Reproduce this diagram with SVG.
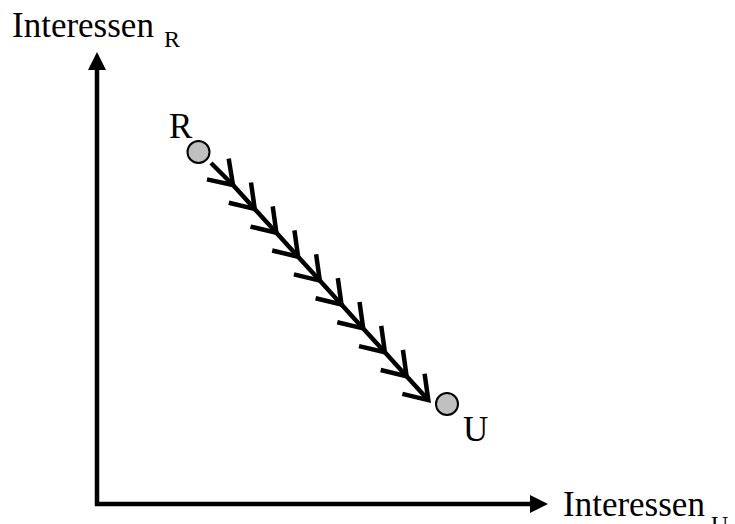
<svg xmlns="http://www.w3.org/2000/svg" width="735" height="524" viewBox="0 0 735 524">
  <style>
    .lbl { font-family: "Liberation Serif", "Times New Roman", serif; fill: #000; }
    .big { font-size: 35px; }
    .sub { font-size: 24px; }
    .axis { stroke: #000; stroke-width: 4.5; fill: none; }
    .pt { fill: #c0c0c0; stroke: #000; stroke-width: 2; }
    .path { stroke: #000; stroke-width: 4.5; fill: none; }
  </style>
  <defs>
    <marker id="chev" markerUnits="userSpaceOnUse" markerWidth="60" markerHeight="60" refX="0" refY="0" viewBox="-30 -30 60 60" orient="auto" overflow="visible">
      <path d="M -22 -15 L 0 0 L -22 15" fill="none" stroke="#000" stroke-width="4.5" stroke-linejoin="miter" stroke-miterlimit="10"/>
    </marker>
  </defs>

  <g id="axes">
    <line class="axis" x1="97" y1="506" x2="97" y2="68"/>
    <polygon points="97,52 88,70 106,70" fill="#000"/>
    <line class="axis" x1="95" y1="504" x2="532" y2="504"/>
    <polygon points="548,504 530,495 530,513" fill="#000"/>
  </g>

  <g id="connectors">
    <polyline class="path" marker-mid="url(#chev)" marker-end="url(#chev)"
      points="211,163 233,185 254.7,208.9 276.4,232.8 298.1,256.7 319.8,280.6 341.5,304.5 363.2,328.4 384.9,352.3 406.6,376.2 428.3,400.1"/>
  </g>

  <g id="node-R">
    <circle class="pt" cx="198.5" cy="152" r="11"/>
    <text class="lbl big" x="169" y="138">R</text>
  </g>

  <g id="node-U">
    <circle class="pt" cx="447" cy="404" r="11"/>
    <text class="lbl big" x="463" y="441">U</text>
  </g>

  <g id="label-y">
    <text class="lbl big" x="12" y="37">Interessen</text>
    <text class="lbl sub" x="164" y="47">R</text>
  </g>

  <g id="label-x">
    <text class="lbl big" x="563" y="516">Interessen</text>
    <text class="lbl sub" x="711" y="532">U</text>
  </g>
</svg>
